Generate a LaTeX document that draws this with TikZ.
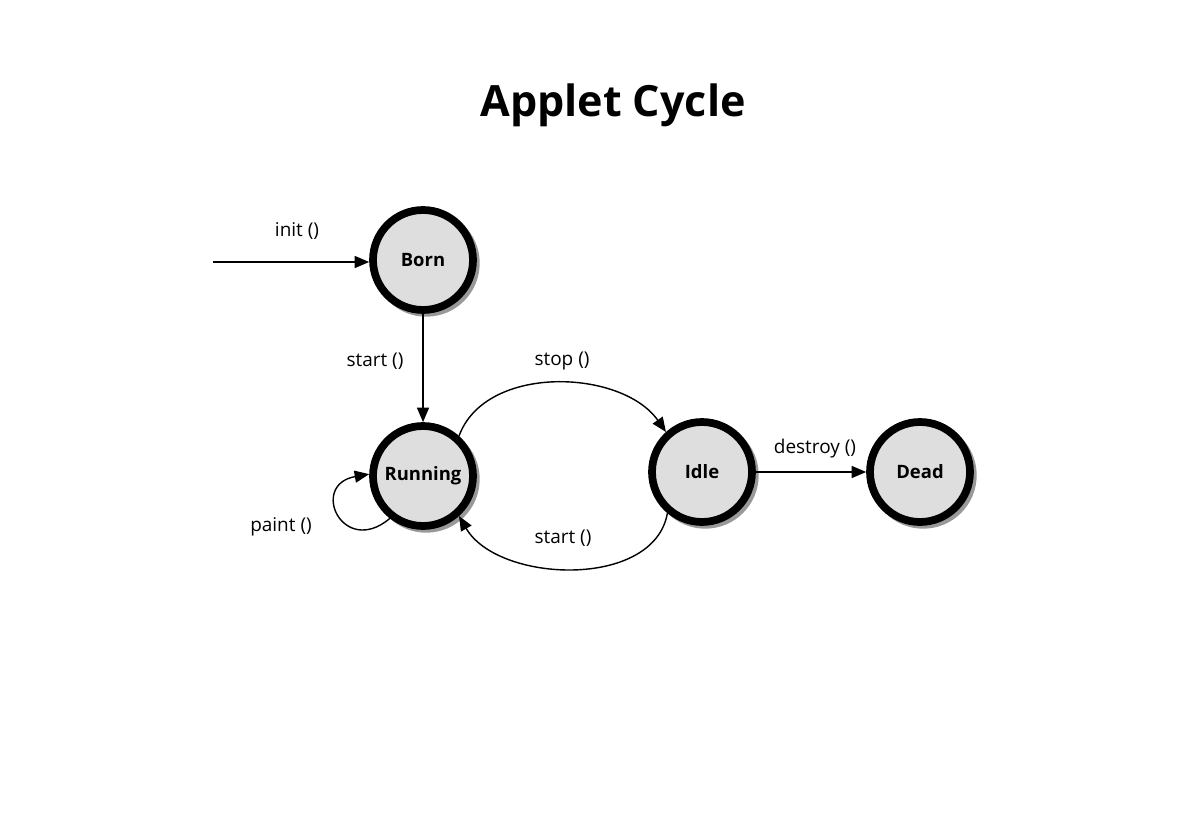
\documentclass[tikz,border=0pt]{standalone}
\usepackage{fontspec}
\setmainfont{Open Sans}
\usetikzlibrary{arrows.meta,shadows}
\tikzset{
  state/.style={circle,draw=black,line width=4.4pt,fill=black!13,minimum size=2.0cm,
    font=\fontsize{10.5}{12}\selectfont\bfseries,
    drop shadow={shadow xshift=0.06cm,shadow yshift=-0.06cm,shadow scale=1.07,fill=black!40,opacity=1}},
  lbl/.style={font=\fontsize{10.8}{13}\selectfont},
  trans/.style={line width=0.8pt,-{Triangle[length=0.29cm,width=0.24cm]}}
}
\begin{document}
\begin{tikzpicture}[x=0.02cm,y=-0.02cm]
 \useasboundingbox (0,0) rectangle (1200,838); % page size
 \node[font=\fontsize{24.5}{28}\selectfont\bfseries] (title) at (613,105) {Applet Cycle};
 % states
 \node[state] (born) at (423,260) {Born};
 \node[state] (run) at (423,476) {Running};
 \node[state] (idle) at (702,472) {Idle};
 \node[state] (dead) at (920,472) {Dead};
 \coordinate (in) at (213,262);
 % transitions
 \draw[trans] (in) -- (born.west|-in);
 \draw[trans] (born) -- (run);
 \draw[trans] (run.48) to[out=70,in=125,looseness=0.95] (idle.132);
 \draw[trans] (idle.-130) to[out=-100,in=-60,looseness=0.95] (run.-48);
 \draw[trans] (idle) -- (dead);
 \draw[trans] (run.-128) to[out=-140,in=190,looseness=3.2] (run.178);
 % labels
 \node[lbl] (linit) at (297,231) {init ()};
 \node[lbl] (lstart) at (375,361) {start ()};
 \node[lbl] (lstop) at (562,361) {stop ()};
 \node[lbl] (lback) at (563,538) {start ()};
 \node[lbl] (ldestroy) at (815,449) {destroy ()};
 \node[lbl] (lpaint) at (281,527) {paint ()};
\end{tikzpicture}
\end{document}
